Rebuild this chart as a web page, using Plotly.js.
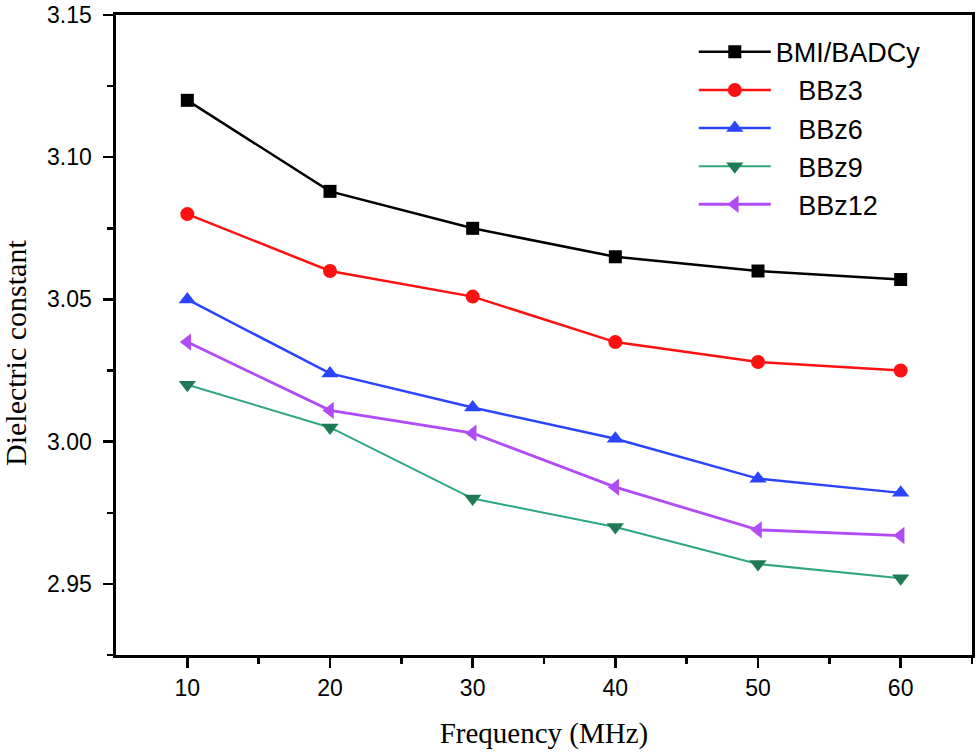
<!DOCTYPE html>
<html>
<head>
<meta charset="utf-8">
<script src="https://cdn.plot.ly/plotly-3.0.1.min.js"></script>
<style>html,body{margin:0;padding:0;background:#fff;}#chart{width:980px;height:755px;}</style>
</head>
<body>
<div id="chart"></div>
<script>
const frequency = [10, 20, 30, 40, 50, 60];
const seriesNames = ["BMI/BADCy", "\u00A0\u00A0\u00A0BBz3", "\u00A0\u00A0\u00A0BBz6", "\u00A0\u00A0\u00A0BBz9", "\u00A0\u00A0\u00A0BBz12"];
const bmiBadcy = [3.120, 3.088, 3.075, 3.065, 3.060, 3.057];
const bbz3 = [3.080, 3.060, 3.051, 3.035, 3.028, 3.025];
const bbz6 = [3.050, 3.024, 3.012, 3.001, 2.987, 2.982];
const bbz9 = [3.020, 3.005, 2.980, 2.970, 2.957, 2.952];
const bbz12 = [3.035, 3.011, 3.003, 2.984, 2.969, 2.967];
const xTickLabels = ['10', '20', '30', '40', '50', '60'];
const yTickVals = [2.95, 3.00, 3.05, 3.10, 3.15];
const yTickLabels = ['2.95', '3.00', '3.05', '3.10', '3.15'];

const styles = [
  {line: '#000000', marker: '#000000', symbol: 'square', size: 13, width: 2.5},
  {line: '#ff1010', marker: '#ff1010', symbol: 'circle', size: 14, width: 2.5},
  {line: '#2a44ff', marker: '#2a44ff', symbol: 'triangle-up', size: 15, width: 2.5},
  {line: '#2ea878', marker: '#1f7a58', symbol: 'triangle-down', size: 15, width: 2},
  {line: '#b04cf5', marker: '#b04cf5', symbol: 'triangle-left', size: 15, width: 2.8}
];
const values = [bmiBadcy, bbz3, bbz6, bbz9, bbz12];

const traces = values.map((v, i) => ({
  x: frequency, y: v, name: seriesNames[i], type: 'scatter', mode: 'lines+markers',
  line: {color: styles[i].line, width: styles[i].width},
  marker: {color: styles[i].marker, symbol: styles[i].symbol, size: styles[i].size}
}));

const tickFont = {family: 'Liberation Sans, Arial, sans-serif', size: 23, color: '#000'};

const yLabelAnnotations = yTickVals.map((v, i) => ({
  text: yTickLabels[i], xref: 'paper', yref: 'y', x: 0, y: v,
  xanchor: 'right', yanchor: 'middle', xshift: -22, showarrow: false, font: tickFont
}));

const layout = {
  width: 980, height: 755,
  margin: {l: 116, r: 8, t: 15, b: 100},
  paper_bgcolor: '#fff', plot_bgcolor: '#fff',
  showlegend: true,
  legend: {x: 0.675, y: 0.98, xanchor: 'left', yanchor: 'top', itemwidth: 72,
    font: {family: 'Liberation Sans, Arial, sans-serif', size: 27, color: '#000'},
    bgcolor: 'rgba(0,0,0,0)', tracegroupgap: 0},
  xaxis: {
    range: [5, 65], tickvals: frequency, ticktext: xTickLabels,
    ticks: 'outside', ticklen: 10, tickwidth: 2.5, tickcolor: '#000',
    minor: {tickvals: [15, 25, 35, 45, 55, 65], ticks: 'outside', ticklen: 6, tickwidth: 2.5, tickcolor: '#000', showgrid: false},
    showline: true, linewidth: 3, linecolor: '#000', mirror: true, showgrid: false, zeroline: false,
    tickfont: tickFont,
    title: {text: 'Frequency (MHz)', standoff: 24, font: {family: 'Liberation Serif, Times New Roman, serif', size: 29, color: '#000'}}
  },
  yaxis: {
    range: [2.925, 3.15], tickvals: yTickVals, showticklabels: false,
    ticks: 'outside', ticklen: 10, tickwidth: 2.5, tickcolor: '#000',
    minor: {tickvals: [2.925, 2.975, 3.025, 3.075, 3.125], ticks: 'outside', ticklen: 6, tickwidth: 2.5, tickcolor: '#000', showgrid: false},
    showline: true, linewidth: 3, linecolor: '#000', mirror: true, showgrid: false, zeroline: false
  },
  annotations: yLabelAnnotations.concat([{
    text: 'Dielectric constant', xref: 'paper', yref: 'paper', x: 0, y: 0.5,
    xanchor: 'center', yanchor: 'middle', xshift: -101, yshift: -18, textangle: -90, showarrow: false,
    font: {family: 'Liberation Serif, Times New Roman, serif', size: 30, color: '#000'}
  }])
};

Plotly.newPlot('chart', traces, layout, {displayModeBar: false, staticPlot: true});
</script>
</body>
</html>
